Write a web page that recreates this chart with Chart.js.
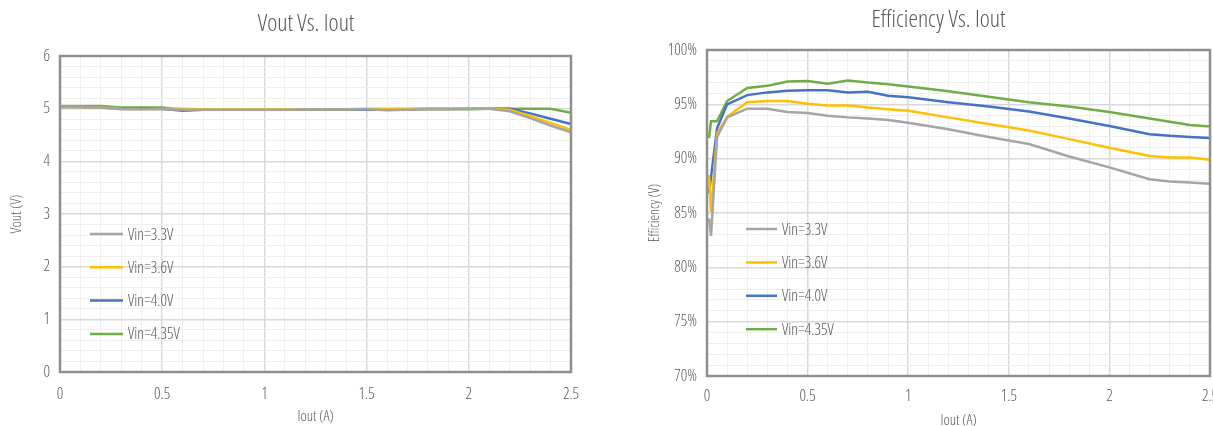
<!DOCTYPE html>
<html>
<head>
<meta charset="utf-8">
<script src="https://cdn.jsdelivr.net/npm/chart.js@4/dist/chart.umd.min.js"></script>
<style>
  html, body { margin: 0; padding: 0; overflow: hidden; background: #fff; width: 1213px; height: 426px; }
  #left { position: absolute; left: 0; top: 0; width: 600px; height: 426px; }
  #right { position: absolute; left: 640px; top: 0; width: 600px; height: 430px; }
</style>
</head>
<body>
<div id="left"><canvas id="c1"></canvas></div>
<div id="right"><canvas id="c2"></canvas></div>
<script>
// ---- Data ----
const seriesNames = ['Vin=3.3V', 'Vin=3.6V', 'Vin=4.0V', 'Vin=4.35V'];

const ioutV = [0, 0.1, 0.2, 0.3, 0.4, 0.5, 0.6, 0.7, 0.8, 0.9, 1.0, 1.1, 1.2, 1.3, 1.4, 1.5, 1.6, 1.7, 1.8, 1.9, 2.0, 2.1, 2.2, 2.3, 2.4, 2.5];
const voutVin33  = [5.04, 5.03, 5.02, 4.99, 4.99, 4.99, 4.98, 4.98, 4.98, 4.98, 4.98, 4.98, 4.99, 4.99, 4.99, 4.99, 4.97, 4.98, 4.99, 4.99, 5.00, 5.00, 4.95, 4.82, 4.68, 4.55];
const voutVin36  = [5.03, 5.03, 5.02, 5.00, 4.99, 5.00, 5.00, 4.99, 4.99, 4.99, 4.99, 4.99, 4.99, 4.99, 4.99, 5.00, 5.00, 5.00, 5.00, 5.00, 5.00, 5.00, 4.98, 4.86, 4.73, 4.60];
const voutVin40  = [5.03, 5.03, 5.02, 5.00, 5.00, 5.00, 4.96, 4.98, 4.98, 4.98, 4.98, 4.98, 4.98, 4.98, 4.98, 4.98, 4.98, 4.99, 5.00, 5.00, 5.00, 5.00, 5.00, 4.91, 4.81, 4.71];
const voutVin435 = [5.05, 5.05, 5.05, 5.02, 5.02, 5.02, 4.98, 4.98, 4.98, 4.98, 4.98, 4.98, 4.99, 4.99, 4.99, 4.99, 4.99, 4.99, 4.99, 4.99, 4.99, 5.00, 5.00, 5.00, 5.00, 4.92];

const ioutE = [0.01, 0.02, 0.05, 0.1, 0.2, 0.3, 0.4, 0.5, 0.6, 0.7, 0.8, 0.9, 1.0, 1.2, 1.4, 1.6, 1.8, 2.0, 2.2, 2.3, 2.4, 2.5];
const effVin33  = [84.5, 82.9, 92.0, 93.8, 94.6, 94.6, 94.3, 94.2, 93.95, 93.8, 93.7, 93.55, 93.3, 92.7, 92.0, 91.35, 90.2, 89.2, 88.1, 87.9, 87.8, 87.7];
const effVin36  = [88.5, 85.1, 92.3, 93.85, 95.2, 95.3, 95.3, 95.05, 94.9, 94.9, 94.7, 94.55, 94.4, 93.8, 93.2, 92.6, 91.8, 91.0, 90.25, 90.1, 90.1, 89.9];
const effVin40  = [86.8, 88.3, 92.8, 95.0, 95.85, 96.1, 96.25, 96.3, 96.3, 96.1, 96.15, 95.8, 95.65, 95.2, 94.8, 94.35, 93.7, 93.0, 92.25, 92.1, 92.0, 91.9];
const effVin435 = [91.9, 93.45, 93.45, 95.3, 96.5, 96.7, 97.1, 97.15, 96.9, 97.2, 97.0, 96.85, 96.65, 96.2, 95.7, 95.2, 94.8, 94.3, 93.7, 93.4, 93.1, 92.95];

// ---- Styles ----
const colors = ['#a5a5a5', '#ffc000', '#4472c4', '#70ad47'];
const FAMILY = '"Open Sans", sans-serif';
const W = '300 condensed';       // weight + stretch, placed before the size in the font shorthand
const TXT = '#595959';
const MAJOR = '#d9d9d9', MINOR = '#efefef';
const f = size => ({ family: FAMILY, size: size, weight: W });

const frame = {
  id: 'frame',
  afterDatasetsDraw(chart) {
    const { ctx, chartArea: a } = chart;
    ctx.save();
    ctx.strokeStyle = '#8f8f8f';
    ctx.lineWidth = 2.5;
    ctx.strokeRect(a.left, a.top, a.right - a.left, a.bottom - a.top);
    ctx.restore();
  }
};

const insideLegend = {
  id: 'insideLegend',
  afterDraw(chart, args, opts) {
    const { ctx, chartArea: a } = chart;
    ctx.save();
    ctx.font = W + ' 16px ' + FAMILY;
    ctx.textBaseline = 'middle';
    ctx.textAlign = 'left';
    chart.data.datasets.forEach((ds, i) => {
      const x = a.left + opts.left;
      const y = a.top + opts.top + i * opts.gap;
      ctx.strokeStyle = ds.borderColor;
      ctx.lineWidth = 2.5;
      ctx.beginPath();
      ctx.moveTo(x, y);
      ctx.lineTo(x + opts.len, y);
      ctx.stroke();
      ctx.fillStyle = TXT;
      ctx.fillText(ds.label, x + opts.len + 5, y + 1);
    });
    ctx.restore();
  }
};

function mkDatasets(xs, ys) {
  return ys.map((arr, i) => ({
    label: seriesNames[i],
    data: xs.map((x, j) => ({ x: x, y: arr[j] })),
    borderColor: colors[i],
    backgroundColor: colors[i],
    borderWidth: 2.5,
    pointRadius: 0,
    tension: 0,
    fill: false
  }));
}

function xScale(tickPad, titlePadBottom) {
  return {
    type: 'linear', min: 0, max: 2.5,
    afterFit(s) { s.height = 54; },
    ticks: {
      stepSize: 0.1, autoSkip: false, maxRotation: 0, padding: tickPad,
      color: TXT, font: f(16),
      callback: v => (Math.round(v * 10) % 5 === 0 ? String(Math.round(v * 10) / 10) : '')
    },
    grid: {
      drawTicks: false,
      color: c => (Math.round(c.tick.value * 10) % 5 === 0 ? MAJOR : MINOR),
      lineWidth: c => (Math.round(c.tick.value * 10) % 5 === 0 ? 1.5 : 1)
    },
    border: { display: false },
    title: { display: true, text: 'Iout (A)', color: TXT, font: f(15), padding: { top: 0, bottom: titlePadBottom } }
  };
}

Chart.defaults.animation = false;

new Chart(document.getElementById('c1'), {
  type: 'line',
  data: { datasets: mkDatasets(ioutV, [voutVin33, voutVin36, voutVin40, voutVin435]) },
  options: {
    responsive: true, maintainAspectRatio: false, animation: false,
    layout: { padding: { left: 41, right: 29, top: 0, bottom: 0 } },
    scales: {
      x: xScale(13, 0),
      y: {
        min: 0, max: 6,
        afterFit(s) { s.width = 19; },
        ticks: {
          stepSize: 0.2, autoSkip: false, padding: 10,
          color: TXT, font: f(16),
          callback: v => (Math.abs(v - Math.round(v)) < 1e-6 ? String(Math.round(v)) : '')
        },
        grid: {
          drawTicks: false,
          color: c => (Math.abs(c.tick.value - Math.round(c.tick.value)) < 1e-6 ? MAJOR : MINOR),
          lineWidth: c => (Math.abs(c.tick.value - Math.round(c.tick.value)) < 1e-6 ? 1.5 : 1)
        },
        border: { display: false },
        title: { display: true, text: 'Vout (V)', color: TXT, font: f(15), padding: { top: -33, bottom: 0 } }
      }
    },
    plugins: {
      legend: { display: false },
      tooltip: { enabled: false },
      title: { display: true, text: 'Vout Vs. Iout', color: TXT, font: f(24), padding: { top: 9.4, bottom: 17.8 } },
      insideLegend: { left: 30, top: 178, gap: 33.3, len: 33 }
    }
  },
  plugins: [frame, insideLegend]
});

new Chart(document.getElementById('c2'), {
  type: 'line',
  data: { datasets: mkDatasets(ioutE, [effVin33, effVin36, effVin40, effVin435]) },
  options: {
    responsive: true, maintainAspectRatio: false, animation: false,
    layout: { padding: { left: 27, right: 30, top: 0, bottom: 0 } },
    scales: {
      x: xScale(11, 0),
      y: {
        min: 70, max: 100,
        afterFit(s) { s.width = 40; },
        ticks: {
          stepSize: 1, autoSkip: false, padding: 10,
          color: TXT, font: f(16),
          callback: v => (Math.round(v) % 5 === 0 ? Math.round(v) + '%' : '')
        },
        grid: {
          drawTicks: false,
          color: c => (Math.round(c.tick.value) % 5 === 0 ? MAJOR : MINOR),
          lineWidth: c => (Math.round(c.tick.value) % 5 === 0 ? 1.5 : 1)
        },
        border: { display: false },
        title: { display: true, text: 'Efficiency (V)', color: TXT, font: f(14), padding: { top: -20.4, bottom: 0 } }
      }
    },
    plugins: {
      legend: { display: false },
      tooltip: { enabled: false },
      title: { display: true, text: 'Efficiency Vs. Iout', color: TXT, font: f(24), padding: { top: 5.4, bottom: 15.8 } },
      insideLegend: { left: 39, top: 179, gap: 33.4, len: 31 }
    }
  },
  plugins: [frame, insideLegend]
});
</script>
</body>
</html>
